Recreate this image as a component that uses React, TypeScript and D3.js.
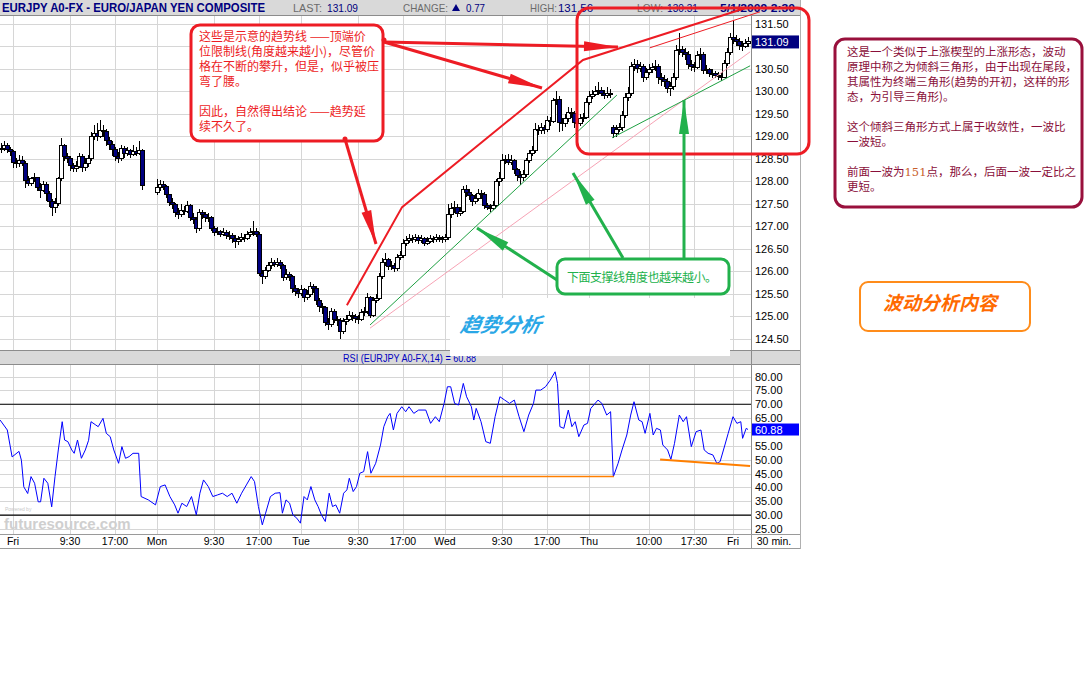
import React from 'react';
import * as d3 from 'd3';

// 30-minute bars; bar 0 = Fri 00:00, 48 bars per day (weekend collapsed)
const firstBar = -4;
const firstOpen = 128.7;

const closes: (number | null)[] = [
  128.72, 128.78, 128.7, 128.66, 128.42, 128.38, 128.45, 128.4,
  128.02, 127.95, 128.05, 128.08, 127.85, 127.8, 127.92, 127.72,
  127.55, 127.42, 127.5, 128.05, 128.78, 128.55, 128.5, 128.35,
  128.28, 128.32, 128.55, 128.3, 128.4, 128.5, 128.98, 129.05,
  129.0, 129.12, 129.1, 128.9, 128.82, 128.7, 128.55, 128.5,
  128.72, 128.62, 128.68, 128.6, 128.66, 128.62, 128.68, 127.9,
  null, null, null, null, 127.85, 127.92, 127.88, 127.7,
  127.52, 127.48, 127.3, 127.25, 127.35, 127.32, 127.45, 127.2,
  127.15, 126.95, 127.3, 127.25, 127.2, 127.18, 126.95, 126.85,
  126.88, 126.82, 126.86, 126.8, 126.78, 126.72, 126.65, 126.7,
  126.75, 126.72, 126.82, 126.86, 126.88, 126.82, 125.95, 125.88,
  126.02, 126.12, 126.18, 126.15, 126.2, 126.12, 125.85, 125.92,
  125.88, 125.62, 125.55, 125.5, 125.58, 125.42, 125.48, 125.65,
  125.62, 125.35, 125.22, 125.18, 124.85, 124.82, 125.1, 124.92,
  124.9, 124.65, 124.88, 124.92, 125.02, 124.98, 124.95, 124.92,
  125.08, 125.1, 125.42, 125.02, 125.35, 125.4, 125.88, 126.2,
  126.25, 126.1, 126.12, 126.05, 126.3, 126.35, 126.62, 126.68,
  126.72, 126.7, 126.74, 126.68, 126.72, 126.62, 126.66, 126.72,
  126.7, 126.74, 126.72, 126.7, 126.74, 127.25, 127.4, 127.42,
  127.28, 127.32, 127.82, 127.75, 127.68, 127.55, 127.62, 127.72,
  127.7, 127.45, 127.42, 127.4, 127.45, 127.98, 128.05, 128.45,
  128.48, 128.42, 128.46, 128.25, 128.12, 128.08, 128.15, 128.45,
  128.62, 128.68, 129.15, 129.12, 129.18, 129.15, 129.35, 129.32,
  129.78, 129.82, 129.3, 129.28, 129.38, 129.52, 129.5, 129.3,
  129.28, 129.4, 129.42, 129.75, 129.88, 129.92, 130.0, 130.02,
  129.95, 129.9, 129.95, 129.92, 129.05, 129.15, 129.18, 129.45,
  129.85, 129.95, 130.55, 130.6, 130.5, 130.55, 130.3, 130.42,
  130.48, 130.52, 130.55, 130.3, 130.25, 130.22, 130.05, 130.1,
  130.3, 130.9, 130.92, 130.85, 130.82, 130.6, 130.55, 130.52,
  130.78, 130.82, 130.45, 130.48, 130.4, 130.38, 130.35, 130.32,
  130.3, 130.62, 130.85, 131.18, 131.15, 131.1, 131.02, 130.98,
  131.05, 131.09,
];

const highs: (number | null)[] = [
  128.85, 128.9, 128.84, 128.76, 128.7, 128.52, 128.58, 128.55,
  128.44, 128.12, 128.1, 128.18, 128.1, 127.95, 128.0, 127.98,
  127.78, 127.6, 127.62, 128.1, 128.95, 128.82, 128.62, 128.55,
  128.4, 128.45, 128.62, 128.6, 128.52, 128.58, 129.1, 129.25,
  129.3, 129.35, 129.25, 129.15, 128.98, 128.88, 128.75, 128.65,
  128.8, 128.78, 128.75, 128.72, 128.8, 128.75, 128.9, 128.72,
  null, null, null, null, 128.05, 128.02, 128.0, 127.92,
  127.72, 127.62, 127.52, 127.4, 127.48, 127.45, 127.55, 127.5,
  127.28, 127.2, 127.38, 127.35, 127.32, 127.28, 127.22, 127.0,
  126.98, 126.92, 126.95, 126.92, 126.9, 126.85, 126.8, 126.78,
  126.85, 126.82, 126.9, 126.95, 127.12, 126.95, 126.86, 126.02,
  126.1, 126.2, 126.28, 126.25, 126.3, 126.25, 126.15, 126.05,
  125.98, 125.92, 125.7, 125.62, 125.7, 125.62, 125.58, 125.75,
  125.72, 125.66, 125.4, 125.3, 125.22, 124.95, 125.18, 125.15,
  125.0, 124.95, 124.95, 125.02, 125.12, 125.1, 125.05, 125.02,
  125.15, 125.2, 125.52, 125.45, 125.42, 125.5, 125.95, 126.3,
  126.4, 126.3, 126.22, 126.18, 126.38, 126.45, 126.72, 126.78,
  126.82, 126.8, 126.82, 126.8, 126.8, 126.76, 126.75, 126.8,
  126.78, 126.82, 126.8, 126.78, 126.82, 127.5, 127.52, 127.55,
  127.48, 127.42, 127.9, 127.92, 127.82, 127.72, 127.72, 127.82,
  127.8, 127.75, 127.52, 127.5, 127.55, 128.05, 128.2, 128.6,
  128.58, 128.6, 128.58, 128.5, 128.3, 128.22, 128.25, 128.52,
  128.7, 128.78, 129.3, 129.25, 129.28, 129.25, 129.45, 129.42,
  129.85, 130.0, 129.88, 129.4, 129.48, 129.65, 129.62, 129.55,
  129.38, 129.5, 129.52, 129.85, 130.0, 130.02, 130.12, 130.2,
  130.08, 130.02, 130.1, 130.05, 129.25, 129.25, 129.3, 129.55,
  129.95, 130.1, 130.65, 130.72, 130.68, 130.65, 130.6, 130.52,
  130.6, 130.62, 130.7, 130.6, 130.4, 130.35, 130.28, 130.2,
  130.4, 131.02, 131.3, 131.0, 130.95, 130.88, 130.7, 130.65,
  130.88, 130.95, 130.86, 130.58, 130.52, 130.48, 130.45, 130.42,
  130.4, 130.7, 130.95, 131.3, 131.56, 131.25, 131.18, 131.12,
  131.15, 131.2,
];

const lows: (number | null)[] = [
  128.62, 128.66, 128.62, 128.55, 128.3, 128.28, 128.32, 128.33,
  127.85, 127.88, 127.9, 127.98, 127.78, 127.62, 127.75, 127.55,
  127.42, 127.22, 127.3, 127.45, 128.0, 128.45, 128.4, 128.22,
  128.2, 128.2, 128.28, 128.2, 128.22, 128.32, 128.45, 128.92,
  128.9, 128.95, 128.98, 128.78, 128.7, 128.55, 128.45, 128.4,
  128.45, 128.52, 128.55, 128.52, 128.55, 128.55, 128.58, 127.8,
  null, null, null, null, 127.7, 127.78, 127.8, 127.62,
  127.45, 127.38, 127.2, 127.15, 127.2, 127.25, 127.28, 127.12,
  127.05, 126.85, 126.9, 127.15, 127.1, 127.08, 126.88, 126.78,
  126.8, 126.75, 126.78, 126.72, 126.7, 126.62, 126.52, 126.58,
  126.65, 126.65, 126.68, 126.75, 126.78, 126.75, 125.88, 125.72,
  125.82, 125.98, 126.05, 126.08, 126.1, 126.05, 125.78, 125.8,
  125.78, 125.52, 125.45, 125.4, 125.45, 125.32, 125.35, 125.42,
  125.52, 125.25, 125.1, 125.05, 124.78, 124.7, 124.75, 124.85,
  124.78, 124.48, 124.6, 124.8, 124.88, 124.88, 124.85, 124.82,
  124.88, 125.0, 125.05, 124.95, 124.98, 125.28, 125.35, 125.82,
  126.12, 126.02, 126.02, 125.98, 126.0, 126.25, 126.3, 126.55,
  126.62, 126.62, 126.65, 126.6, 126.62, 126.55, 126.58, 126.62,
  126.62, 126.65, 126.64, 126.62, 126.65, 126.7, 127.18, 127.3,
  127.2, 127.22, 127.28, 127.65, 127.58, 127.45, 127.48, 127.55,
  127.6, 127.38, 127.35, 127.32, 127.35, 127.42, 127.9, 128.0,
  128.38, 128.35, 128.35, 128.15, 128.0, 127.92, 128.0, 128.1,
  128.4, 128.55, 128.62, 129.02, 129.05, 129.05, 129.1, 129.22,
  129.28, 129.7, 129.1, 129.12, 129.2, 129.32, 129.4, 129.18,
  129.2, 129.22, 129.32, 129.38, 129.7, 129.82, 129.88, 129.92,
  129.88, 129.82, 129.85, 129.85, 128.95, 128.98, 129.08, 129.12,
  129.4, 129.78, 129.9, 130.45, 130.4, 130.42, 130.2, 130.25,
  130.35, 130.4, 130.45, 130.15, 130.12, 130.1, 129.95, 129.88,
  130.02, 130.25, 130.8, 130.75, 130.7, 130.5, 130.45, 130.42,
  130.48, 130.7, 130.38, 130.38, 130.32, 130.3, 130.28, 130.25,
  130.22, 130.28, 130.55, 130.8, 131.05, 131.0, 130.92, 130.9,
  130.95, 130.98,
];

// bars whose open does not follow the previous close
const gapBars = [48, 200];
const gapOpens = [127.75, 129.2];

// RSI(14) (bar position, value)
const rsiBars = [
  -4.3, -1.9, -0.3, 2.0, 2.8, 3.6, 4.9, 6.0, 7.2, 8.4,
  9.2, 10.3, 11.6, 12.9, 14.0, 15.1, 16.4, 17.2, 18.3, 19.6,
  20.4, 21.5, 22.8, 24.1, 25.2, 26.0, 27.6, 28.4, 30.0, 31.1,
  32.4, 33.6, 35.2, 36.3, 37.5, 38.7, 40.0, 41.9, 42.7, 45.1,
  47.5, 49.1, 50.7, 52.3, 53.9, 55.0, 56.3, 57.9, 59.5, 61.1,
  62.3, 63.5, 65.1, 66.6, 68.2, 69.8, 71.4, 73.0, 74.6, 76.2,
  77.8, 79.4, 80.5, 81.8, 83.1, 84.2, 85.8, 87.4, 89.0, 89.8,
  91.0, 92.2, 93.3, 94.6, 95.8, 97.0, 98.1, 99.3, 100.6, 101.7,
  102.8, 104.1, 105.4, 106.5, 107.6, 108.9, 110.2, 111.3, 112.1, 113.4,
  114.5, 115.6, 116.9, 118.2, 119.3, 120.9, 122.5, 123.6, 124.9, 125.7,
  126.8, 128.0, 129.6, 130.9, 132.0, 133.6, 135.2, 137.6, 139.2, 140.8,
  142.1, 143.7, 144.8, 145.9, 147.2, 148.5, 150.1, 151.2, 152.8, 153.6,
  154.4, 156.0, 157.6, 159.1, 160.7, 162.3, 163.9, 165.5, 167.1, 168.7,
  170.3, 171.9, 173.5, 174.3, 175.9, 177.5, 179.1, 180.7, 181.5, 182.3,
  183.6, 185.1, 186.3, 187.4, 188.6, 190.3, 191.5, 192.6, 195.0, 196.3,
  197.9, 199.2, 200.1, 201.7, 203.0, 204.6, 205.9, 207.0, 208.6, 209.7,
  210.7, 212.3, 213.4, 214.5, 215.8, 216.6, 218.2, 219.3, 220.5, 222.1,
  223.4, 224.5, 226.1, 227.7, 229.3, 230.4, 231.7, 233.3, 234.6, 235.7,
  237.3, 238.4, 240.0, 241.3, 242.6, 243.2, 244.4, 245.0,
];
const rsiValues = [
  64.3, 60.7, 51, 53, 49.8, 40.2, 37.8, 43.9, 41.5, 34.8,
  34.8, 43.3, 41.5, 33, 43.9, 53.5, 63.7, 57.1, 56.5, 53.5,
  52.3, 57.1, 50.5, 53.5, 57, 63.7, 62.5, 61.9, 64.9, 59.5,
  58.3, 53.5, 48.7, 54.7, 50.5, 51.1, 52.3, 52.3, 36.7, 35.5,
  33.7, 40.3, 40.9, 36.7, 33.7, 30.7, 34.3, 33.1, 36.7, 30.1,
  37.9, 42.7, 40.3, 36.7, 37.3, 37.9, 36.7, 37.9, 34.3, 37.9,
  40.9, 43.9, 42.1, 33.1, 26.5, 30.7, 36.7, 37.9, 38.1, 30.7,
  35.5, 34.3, 30.1, 28.9, 27.1, 36.7, 35.5, 40.3, 35.5, 33.1,
  30.1, 27.7, 37.9, 33.1, 33.7, 30.7, 37.9, 39.1, 43.3, 38.5,
  40.3, 45.1, 45.7, 52.9, 45.1, 48.7, 55.3, 61.9, 65.5, 66.7,
  60.7, 66.7, 69.1, 67.3, 69.1, 66.7, 67.9, 67.9, 63.1, 65.5,
  63.7, 70.3, 76.3, 76.3, 70.3, 69.7, 77.5, 72.7, 69.1, 64.3,
  68.5, 63.7, 56.5, 55.9, 65.5, 72.7, 71.5, 70.3, 71.5, 65.5,
  60.1, 66.1, 70.3, 75.1, 75.1, 76.3, 78.7, 81.7, 77.5, 61.9,
  61.3, 67.9, 61.9, 63.7, 58.3, 62.5, 63.1, 68.5, 71.5, 70.3,
  66.1, 67.3, 43.8, 48.7, 53.5, 58.9, 66.1, 70.9, 64.3, 63.7,
  59.5, 66.7, 58.9, 61.3, 60.7, 55.3, 53.5, 50.1, 55.9, 66.1,
  63.7, 65.5, 54.7, 60.1, 60.7, 53.5, 52.3, 51.7, 48.7, 49.3,
  55.3, 59.5, 65.5, 63.1, 63.7, 57.7, 61.3, 60.88,
];

const timeTicks = [0, 19, 34, 48, 67, 82, 96, 115, 130, 144, 163, 178, 192, 212, 227, 240];
const timeLabels = ['Fri', '9:30', '17:00', 'Mon', '9:30', '17:00', 'Tue', '9:30', '17:00', 'Wed', '9:30', '17:00', 'Thu', '10:00', '17:30', 'Fri'];
const priceTicks = [124.5, 125, 125.5, 126, 126.5, 127, 127.5, 128, 128.5, 129, 129.5, 130, 130.5, 131, 131.5];
const rsiTicks = [25, 30, 35, 40, 45, 50, 55, 60, 65, 70, 75, 80];
const lastPrice = 131.09;
const lastRsi = 60.88;

// hand-drawn trend lines, in (bar, price)
const redTopLine = [[111.3, 125.24], [129.7, 127.42], [190, 130.69], [244, 131.84]];
const redWedgeTop = [[212.3, 130.96], [249, 131.76]];
const pinkLine = [[119, 124.73], [245.7, 130.87]];
const greenLine1 = [[119, 124.8], [201.3, 129.91]];
const greenLine2 = [[199.7, 128.96], [245.7, 130.56]];
// RSI support lines, in (bar, rsi)
const rsiFlat = [[117.3, 43.9], [200.3, 43.9]];
const rsiSlope = [[215.7, 50.1], [245.7, 47.7]];

const calloutLines = [
  '这些是示意的趋势线 ——顶端价',
  '位限制线(角度越来越小)，尽管价',
  '格在不断的攀升，但是，似乎被压',
  '弯了腰。',
  '',
  '因此，自然得出结论 ——趋势延',
  '续不久了。',
];
const noteLines = [
  '这是一个类似于上涨楔型的上涨形态，波动',
  '原理中称之为倾斜三角形，由于出现在尾段，',
  '其属性为终端三角形(趋势的开初，这样的形',
  '态，为引导三角形)。',
  '',
  '这个倾斜三角形方式上属于收敛性，一波比',
  '一波短。',
  '',
  '前面一波为|151|点，那么，后面一波一定比之',
  '更短。',
];

const SANS = '"Liberation Sans", Arial, sans-serif';
const CJK = '"Noto Sans CJK SC", sans-serif';
const RED = '#ed1c24';
const GREEN = '#22b14c';
const GRID = '#d6d6d6';

function head(x1: number, y1: number, x2: number, y2: number, len: number, half: number) {
  const a = Math.atan2(y2 - y1, x2 - x1);
  const bx = x2 - len * Math.cos(a);
  const by = y2 - len * Math.sin(a);
  const px = -Math.sin(a) * half;
  const py = Math.cos(a) * half;
  return `${x2},${y2} ${bx + px},${by + py} ${bx - px},${by - py}`;
}

function Arrow({ x1, y1, x2, y2, color }: { x1: number; y1: number; x2: number; y2: number; color: string }) {
  return (
    <g>
      <line x1={x1} y1={y1} x2={x2} y2={y2} stroke={color} strokeWidth={3} />
      <polygon points={head(x1, y1, x2, y2, 34, 5)} fill={color} />
    </g>
  );
}

export default function App() {
  const x = d3.scaleLinear().domain([0, 240]).range([13, 733]);
  const yP = d3.scaleLinear().domain([124.5, 131.5]).range([338.5, 23.5]);
  const yR = d3.scaleLinear().domain([25, 80]).range([529, 376.5]);

  const candles: { i: number; o: number; h: number; l: number; c: number }[] = [];
  let prev = firstOpen;
  closes.forEach((c, k) => {
    if (c == null) return;
    const i = firstBar + k;
    const g = gapBars.indexOf(i);
    const o = g >= 0 ? gapOpens[g] : prev;
    candles.push({ i, o, h: highs[k] as number, l: lows[k] as number, c });
    prev = c;
  });

  const pline = d3.line<number[]>().x((d) => x(d[0])).y((d) => yP(d[1]));
  const rline = d3.line<number[]>().x((d) => x(d[0])).y((d) => yR(d[1]));
  const rsiPath = rline(rsiBars.map((b, k) => [b, rsiValues[k]]));

  // tick labels hidden behind the last-value boxes
  const hiddenPrice = (p: number) => Math.abs(yP(p) - yP(lastPrice)) < 9;
  const hiddenRsi = (r: number) => Math.abs(yR(r) - yR(lastRsi)) < 9;

  return (
    <svg width={1088} height={688} style={{ position: 'absolute', left: 0, top: 0, background: '#fff' }}>
      <rect x={0} y={0} width={1088} height={688} fill="#fff" />

      {/* grids */}
      <g shapeRendering="crispEdges" stroke={GRID} strokeWidth={1}>
        {timeTicks.map((t) => (
          <g key={t}>
            <line x1={Math.round(x(t)) + 0.5} x2={Math.round(x(t)) + 0.5} y1={15} y2={350} />
            <line x1={Math.round(x(t)) + 0.5} x2={Math.round(x(t)) + 0.5} y1={364} y2={537} />
          </g>
        ))}
        {priceTicks.map((p) => (
          <line key={p} x1={0} x2={751} y1={Math.round(yP(p)) + 0.5} y2={Math.round(yP(p)) + 0.5} />
        ))}
        {rsiTicks.map((r) => (
          <line key={r} x1={0} x2={751} y1={Math.round(yR(r)) + 0.5} y2={Math.round(yR(r)) + 0.5} />
        ))}
      </g>

      {/* header bars */}
      <rect x={0} y={0} width={800} height={15} fill="#d9d9d9" />
      <line x1={0} x2={800} y1={15.5} y2={15.5} stroke="#8c8c8c" />
      <text x={2} y={12} fontFamily={SANS} fontWeight="bold" fontSize={12} fill="#000080" textLength={263} lengthAdjust="spacingAndGlyphs">
        EURJPY A0-FX - EURO/JAPAN YEN COMPOSITE
      </text>
      <g fontFamily={SANS} fontSize={11}>
        <text x={293} y={12} fill="#6b6b6b" textLength={29} lengthAdjust="spacingAndGlyphs">LAST:</text>
        <text x={327} y={12} fill="#000080" textLength={31} lengthAdjust="spacingAndGlyphs">131.09</text>
        <text x={403} y={12} fill="#6b6b6b" textLength={45} lengthAdjust="spacingAndGlyphs">CHANGE:</text>
        <polygon points="452,11 460,11 456,4" fill="#000080" />
        <text x={466} y={12} fill="#000080" textLength={19} lengthAdjust="spacingAndGlyphs">0.77</text>
        <text x={530} y={12} fill="#6b6b6b" textLength={27} lengthAdjust="spacingAndGlyphs">HIGH:</text>
        <text x={558} y={12} fill="#000080" textLength={35} lengthAdjust="spacingAndGlyphs">131.56</text>
        <text x={637} y={12} fill="#6b6b6b" textLength={26} lengthAdjust="spacingAndGlyphs">LOW:</text>
        <text x={667} y={12} fill="#000080" textLength={31} lengthAdjust="spacingAndGlyphs">130.31</text>
        <text x={720} y={12} fill="#000080" fontWeight="bold" textLength={75} lengthAdjust="spacingAndGlyphs">5/1/2009 2:30</text>
      </g>

      <rect x={0} y={350} width={800} height={14} fill="#d9d9d9" />
      <line x1={0} x2={800} y1={350.5} y2={350.5} stroke="#8c8c8c" />
      <line x1={0} x2={800} y1={364.5} y2={364.5} stroke="#8c8c8c" />
      <text x={343} y={362} fontFamily={SANS} fontSize={11} fill="#0000c0" textLength={133} lengthAdjust="spacingAndGlyphs">
        RSI (EURJPY A0-FX,14) = 60.88
      </text>

      {/* candles */}
      <g shapeRendering="crispEdges">
        {candles.map((d) => {
          const px = Math.round(x(d.i));
          const top = yP(Math.max(d.o, d.c));
          const bot = yP(Math.min(d.o, d.c));
          return (
            <g key={d.i}>
              <line x1={px + 0.5} x2={px + 0.5} y1={yP(d.h)} y2={yP(d.l)} stroke="#000" />
              <rect x={px - 1.5} y={top} width={4} height={Math.max(1, bot - top)} fill={d.c >= d.o ? '#fff' : '#000080'} stroke="#000" strokeWidth={1} />
            </g>
          );
        })}
      </g>

      {/* trend lines on price */}
      <path d={pline(pinkLine) || ''} fill="none" stroke="#f7a3b5" strokeWidth={1} />
      <path d={pline(greenLine1) || ''} fill="none" stroke="#1ea042" strokeWidth={1} />
      <path d={pline(greenLine2) || ''} fill="none" stroke="#1ea042" strokeWidth={1} />
      <path d={pline(redWedgeTop) || ''} fill="none" stroke={RED} strokeWidth={1} />
      <path d={pline(redTopLine) || ''} fill="none" stroke={RED} strokeWidth={2} />

      {/* RSI */}
      <line x1={0} x2={751} y1={yR(70)} y2={yR(70)} stroke="#000" strokeWidth={1.2} />
      <line x1={0} x2={751} y1={yR(30)} y2={yR(30)} stroke="#000" strokeWidth={1.2} />
      <path d={rsiPath || ''} fill="none" stroke="#0000ff" strokeWidth={1} />
      <path d={rline(rsiFlat) || ''} fill="none" stroke="#ff7f00" strokeWidth={1.5} />
      <path d={rline(rsiSlope) || ''} fill="none" stroke="#ff7f00" strokeWidth={2} />

      {/* watermark */}
      <text x={5} y={511} fontFamily={SANS} fontSize={5} fill="#c8c8c8">Powered by</text>
      <text x={4} y={529} fontFamily={SANS} fontSize={15} fontWeight="bold" fill="#cfcfcf">futuresource.com</text>

      {/* right axis */}
      <line x1={751.5} x2={751.5} y1={15} y2={549} stroke="#8c8c8c" />
      <line x1={800.5} x2={800.5} y1={0} y2={549} stroke="#b0b0b0" />
      <g fontFamily={SANS} fontSize={11} fill="#000">
        {priceTicks.filter((p) => !hiddenPrice(p)).map((p) => (
          <text key={p} x={755} y={yP(p) + 4}>{p.toFixed(2)}</text>
        ))}
        {rsiTicks.filter((r) => !hiddenRsi(r)).map((r) => (
          <text key={r} x={755} y={yR(r) + 4}>{r.toFixed(2)}</text>
        ))}
      </g>
      <rect x={752} y={yP(lastPrice) - 6.5} width={47} height={13} fill="#000080" />
      <text x={755} y={yP(lastPrice) + 4} fontFamily={SANS} fontSize={11} fill="#fff">{lastPrice.toFixed(2)}</text>
      <rect x={752} y={yR(lastRsi) - 6} width={47} height={12} fill="#0000ff" />
      <text x={755} y={yR(lastRsi) + 4} fontFamily={SANS} fontSize={11} fill="#fff">{lastRsi.toFixed(2)}</text>

      {/* time axis */}
      <rect x={0} y={534} width={800} height={15} fill="#fff" />
      <line x1={0} x2={800} y1={534.5} y2={534.5} stroke="#9a9a9a" />
      <line x1={0} x2={800} y1={548.5} y2={548.5} stroke="#9a9a9a" />
      <line x1={751.5} x2={751.5} y1={534} y2={549} stroke="#9a9a9a" />
      <g fontFamily={SANS} fontSize={10.5} fill="#000" textAnchor="middle">
        {timeTicks.map((t, k) => (
          <text key={t} x={x(t)} y={545}>{timeLabels[k]}</text>
        ))}
        <text x={774} y={545}>30 min.</text>
      </g>

      {/* white patch under title label */}
      <rect x={450} y={298} width={280} height={58} fill="#fff" />
      <text x={460} y={332} fontFamily={CJK} fontSize={20} fontWeight="bold" fontStyle="italic" fill="#2aa7e6" transform="skewX(-12) translate(70,0)">趋势分析</text>

      {/* red callout */}
      <rect x={191} y={25} width={192} height={116} rx={9} fill="#fff" stroke={RED} strokeWidth={3} />
      <g fontFamily={CJK} fontSize={12} fill={RED}>
        {calloutLines.map((s, k) => (
          <text key={k} x={199} y={41 + k * 15}>{s}</text>
        ))}
      </g>
      <Arrow x1={384} y1={42} x2={618} y2={47} color={RED} />
      <Arrow x1={384} y1={42} x2={542} y2={88} color={RED} />
      <Arrow x1={345} y1={139} x2={376} y2={244} color={RED} />
      <circle cx={384} cy={40} r={2.5} fill={RED} />
      <circle cx={345} cy={139} r={2.5} fill={RED} />
      <rect x={577} y={8} width={232} height={146} rx={12} fill="none" stroke={RED} strokeWidth={3} />

      {/* green callout */}
      <Arrow x1={557} y1={280} x2={477} y2={228} color={GREEN} />
      <Arrow x1={623} y1={258} x2={573} y2={173} color={GREEN} />
      <Arrow x1={684} y1={258} x2={684} y2={100} color={GREEN} />
      <rect x={557} y={259} width={172} height={35} rx={8} fill="#fff" stroke={GREEN} strokeWidth={3} />
      <text x={567} y={282} fontFamily={CJK} fontSize={12} fill={GREEN} textLength={150}>下面支撑线角度也越来越小。</text>

      {/* right note */}
      <rect x={835} y={39} width={247} height={168} rx={10} fill="#fff" stroke="#99103c" strokeWidth={3} />
      <g fontFamily={CJK} fontSize={11.5} fill="#8a0f3a">
        {noteLines.map((s, k) => (
          <text key={k} x={847} y={56 + k * 15}>
            {s.split('|').map((part, j) => (
              <tspan key={j} fill={j === 1 ? '#c8602a' : undefined} fontFamily={j === 1 ? '"DejaVu Serif", serif' : undefined}>{part}</tspan>
            ))}
          </text>
        ))}
      </g>

      <rect x={860} y={282} width={170} height={49} rx={8} fill="#fff" stroke="#ff8c1a" strokeWidth={2} />
      <text x={940} y={310} textAnchor="middle" fontFamily={CJK} fontSize={19} fontWeight="bold" fontStyle="italic" fill="#ff6a00">波动分析内容</text>
    </svg>
  );
}
